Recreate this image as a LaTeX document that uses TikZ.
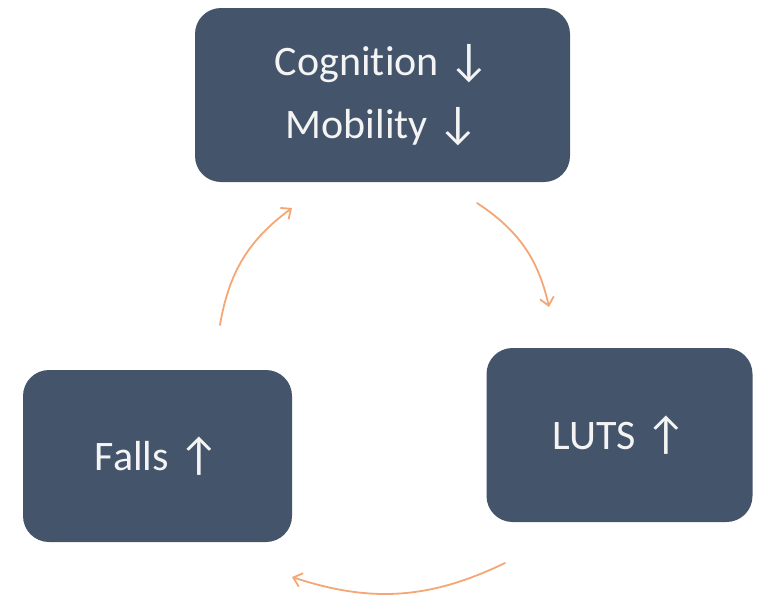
\documentclass[tikz,border=0pt]{standalone}
\usepackage{fontspec}
\setmainfont[Ligatures=NoCommon]{Carlito}
\usetikzlibrary{arrows.meta}
\definecolor{boxblue}{HTML}{44546A}
\definecolor{arrorange}{HTML}{F4A774}
\definecolor{txt}{HTML}{F4F4F4}
\newcommand{\bigarr}[1]{{\fontsize{46}{46}\selectfont #1}}
\tikzset{
  stagebox/.style={draw=none, fill=boxblue, rounded corners=26pt, text=txt,
    font=\fontsize{42}{63}\selectfont, align=center, inner sep=0pt},
  cyclearrow/.style={draw=arrorange, line width=1.8pt, line cap=round,
    -{Straight Barb[length=8pt,width=14pt,line width=1.8pt]}, bend left=22}
}
\begin{document}
\begin{tikzpicture}[x=1pt,y=-1pt]
\useasboundingbox (0,0) rectangle (757,597);
\node[stagebox, minimum width=375pt, minimum height=174pt] (top) at (382.5,95) {Cognition \bigarr{↓}\\Mobility \bigarr{↓}};
\node[stagebox, minimum width=266pt, minimum height=174pt] (luts) at (619.5,435) {LUTS \bigarr{↑}};
\node[stagebox, minimum width=269pt, minimum height=172pt] (falls) at (157.5,456) {Falls \bigarr{↑}};
\coordinate (a1s) at (477,203);
\coordinate (a1e) at (549,307);
\coordinate (a2s) at (505,563);
\coordinate (a2e) at (292,577);
\coordinate (a3s) at (220,325);
\coordinate (a3e) at (292,208);
\draw[cyclearrow] (a1s) to (a1e);
\draw[cyclearrow] (a2s) to (a2e);
\draw[cyclearrow] (a3s) to (a3e);
\end{tikzpicture}
\end{document}
